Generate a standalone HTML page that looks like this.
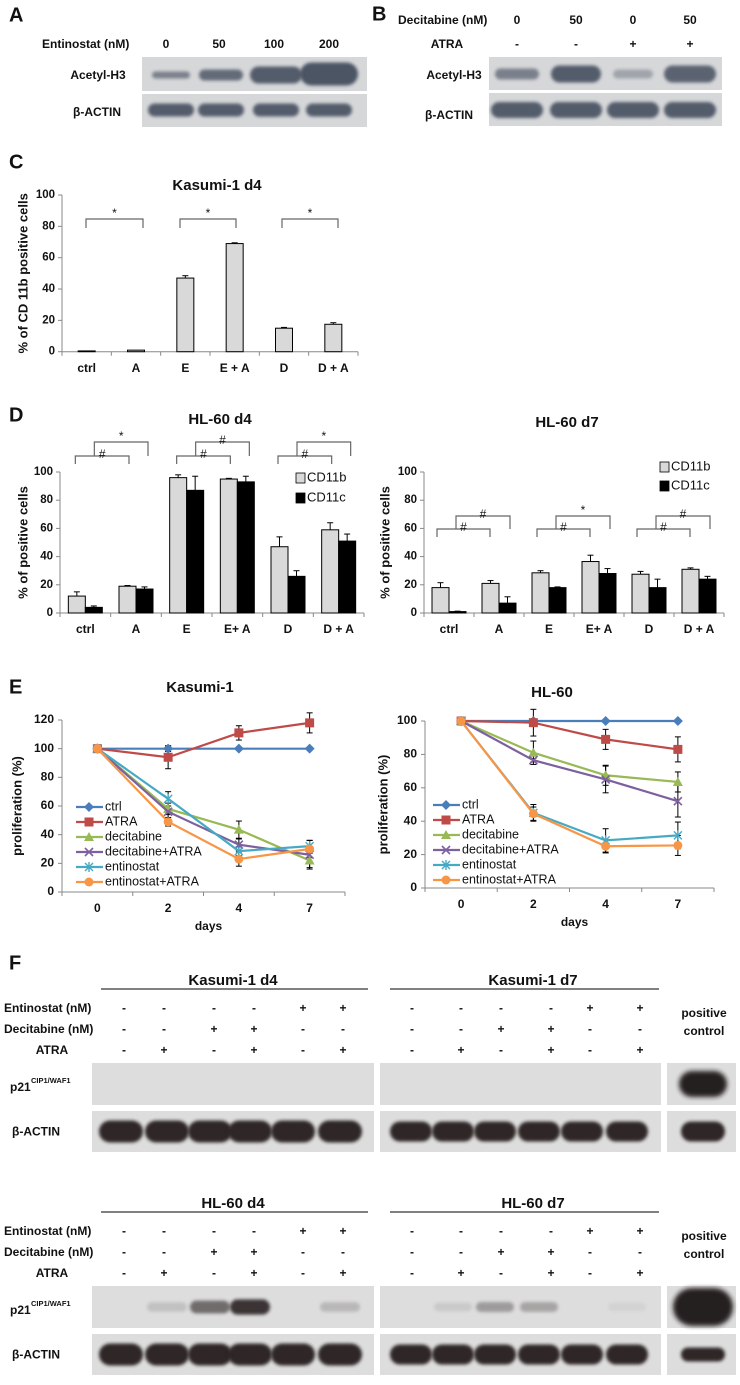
<!DOCTYPE html>
<html><head><meta charset="utf-8">
<style>
html,body{margin:0;padding:0;background:#fff;}
svg{display:block;}
text{font-family:"Liberation Sans Narrow","Liberation Sans",sans-serif;font-weight:bold;fill:#111;}
</style></head>
<body>
<svg id="fig" width="740" height="1385" viewBox="0 0 740 1385" xmlns="http://www.w3.org/2000/svg">
<defs>
<filter id="blur" x="-30%" y="-60%" width="160%" height="220%"><feGaussianBlur stdDeviation="1.6"/></filter>
<filter id="blur2" x="-30%" y="-60%" width="160%" height="220%"><feGaussianBlur stdDeviation="2.4"/></filter>
</defs>
</svg>
<script>
// ---------- Chart data ----------
const cCategories = ['ctrl','A','E','E + A','D','D + A'];
const cValues = [0.5, 1, 47, 69, 15, 17.5];
const cErrors = [0, 0, 1.5, 0.5, 0.5, 1];

const dCategoriesLeft = ['ctrl','A','E','E+ A','D','D + A'];
const d4CD11b = [12, 19, 96, 95, 47, 59];
const d4CD11bErr = [3, 0.5, 2, 0.5, 7, 5];
const d4CD11c = [4, 17, 87, 93, 26, 51];
const d4CD11cErr = [1, 1.5, 10, 4, 4, 5];
const d7CD11b = [18, 21, 28.5, 36.5, 27.5, 31];
const d7CD11bErr = [3.5, 2, 1.5, 4.5, 2, 1];
const d7CD11c = [1, 7, 18, 28, 18, 24];
const d7CD11cErr = [0.3, 4.5, 0.5, 3.5, 6, 2];
const barTicks = ['0','20','40','60','80','100'];

const eDays = ['0','2','4','7'];
const seriesNames = ['ctrl','ATRA','decitabine','decitabine+ATRA','entinostat','entinostat+ATRA'];
const kasumiCtrl = [100, 100, 100, 100];
const kasumiATRA = [100, 94, 111, 118];
const kasumiDec = [100, 58, 43.5, 22];
const kasumiDecATRA = [100, 56, 33, 26];
const kasumiEnt = [100, 65, 28.5, 32];
const kasumiEntATRA = [100, 49, 23, 30];
const kasumiErr = [[0,2,0,0],[0,8,5,7],[0,4,6,5],[0,4,4,10],[0,5,3,4],[0,3,5,6]];
const hlCtrl = [100, 100, 100, 100];
const hlATRA = [100, 99, 89, 83];
const hlDec = [100, 81, 67.5, 63.5];
const hlDecATRA = [100, 76.5, 65, 52];
const hlEnt = [100, 45, 28.5, 31.5];
const hlEntATRA = [100, 44.5, 25, 25.5];
const hlErr = [[0,0,0,0],[0,8,6,7.5],[0,7,6,6],[0,1,8,9.5],[0,5,7,8],[0,4,4,6]];
const kasumiTicks = ['0','20','40','60','80','100','120'];
const hlTicks = ['0','20','40','60','80','100'];

// ---------- helpers ----------
const NS = 'http://www.w3.org/2000/svg';
const svg = document.getElementById('fig');
function mk(tag, attrs, parent) {
  const e = document.createElementNS(NS, tag);
  for (const k in attrs) e.setAttribute(k, attrs[k]);
  (parent || svg).appendChild(e);
  return e;
}
function txt(x, y, s, size, anchor, parent) {
  const e = mk('text', {x: x, y: y, 'font-size': size || 12, 'text-anchor': anchor || 'middle', 'dominant-baseline': 'middle'}, parent);
  e.textContent = s;
  return e;
}
function line(x1, y1, x2, y2, stroke, w, parent) {
  return mk('line', {x1: x1, y1: y1, x2: x2, y2: y2, stroke: stroke || '#888', 'stroke-width': w || 1}, parent);
}

// ---------- Blots ----------
function blotBox(x, y, w, h, bg, name) {
  const g = mk('g', {});
  
  
  mk('rect', {x: x, y: y, width: w, height: h, fill: bg}, g);
  return g;
}
function band(g, cx, cy, w, h, color, op, strong) {
  const b = mk('rect', {x: cx - w / 2, y: cy - h / 2, width: w, height: h, rx: h / 2, ry: h / 2, fill: color, opacity: op, filter: strong ? 'url(#blur2)' : 'url(#blur)'}, g);
  
  
}

// Panel letters
function panelLetter(x, y, s) {
  const t = txt(x, y, s, 20, 'start');
  
  
}
panelLetter(9, 16, 'A');
panelLetter(372, 15, 'B');
panelLetter(9, 163, 'C');
panelLetter(9, 416, 'D');
panelLetter(9, 688, 'E');
panelLetter(9, 964, 'F');

// Panel A
let t = txt(42, 45, 'Entinostat (nM)', 12, 'start');


[['0',166],['50',219],['100',274],['200',329]].forEach(d => {
  const e = txt(d[1], 45, d[0], 12);
  
  
});
t = txt(98, 76, 'Acetyl-H3', 12);


t = txt(97, 113, 'β-ACTIN', 12);


let g = blotBox(142, 57, 225, 34, '#d6d7d9', 'blot-a-acetyl');
band(g, 171, 75, 38, 7, '#3c4658', 0.6);
band(g, 221, 75, 44, 11, '#3c4658', 0.75);
band(g, 276, 75, 52, 17, '#3c4658', 0.85);
band(g, 329, 74, 58, 23, '#3c4658', 0.9);
g = blotBox(142, 94, 225, 33, '#d6d7d9', 'blot-a-actin');
[171, 221, 276, 329].forEach(c => band(g, c, 110, 46, 13, '#3c4658', 0.85));

// Panel B
t = txt(398, 21, 'Decitabine (nM)', 12, 'start');


t = txt(447, 45, 'ATRA', 12);


[['0','-',517],['50','-',576],['0','+',633],['50','+',690]].forEach(d => {
  const e = txt(d[2], 21, d[0], 12);
  
  
  const f = txt(d[2], 45, d[1], 12);
  
  
});
t = txt(454, 76, 'Acetyl-H3', 12);


t = txt(449, 116, 'β-ACTIN', 12);


g = blotBox(489, 57, 233, 33, '#d6d7d9', 'blot-b-acetyl');
band(g, 517, 74, 44, 11, '#3c4658', 0.6);
band(g, 576, 74, 50, 17, '#3c4658', 0.85);
band(g, 633, 74, 40, 9, '#3c4658', 0.35);
band(g, 690, 74, 52, 17, '#3c4658', 0.8);
g = blotBox(489, 93, 233, 33, '#d6d7d9', 'blot-b-actin');
[517, 576, 633, 690].forEach(c => band(g, c, 110, 52, 16, '#3c4658', 0.85));

// ---------- Bar charts ----------
function barChart(o) {
  const cg = mk('g', {});
  
  
  const n = o.categories.length;
  const cw = (o.x1 - o.x0) / n;
  const yS = v => o.y0 - v / o.max * (o.y0 - o.yTop);
  const xC = i => o.x0 + cw * (i + 0.5);
  // y axis
  line(o.x0, o.yTop, o.x0, o.y0, '#888', 1, cg);
  o.ticks.forEach(tk => {
    const v = parseFloat(tk);
    line(o.x0 - 4, yS(v), o.x0, yS(v), '#888', 1, cg);
    const e = txt(o.x0 - 7, yS(v), tk, 11.5, 'end', cg);
    
    
  });
  line(o.x0, o.y0, o.x1, o.y0, '#888', 1, cg);
  for (let i = 0; i <= n; i++) line(o.x0 + cw * i, o.y0, o.x0 + cw * i, o.y0 + 4, '#888', 1, cg);
  o.categories.forEach((c, i) => {
    const e = txt(xC(i), o.y0 + 17, c, 12, 'middle', cg);
    
    
  });
  const ns = o.series.length;
  const bw = 17;
  o.series.forEach((s, si) => {
    s.values.forEach((v, i) => {
      const bx = ns === 1 ? xC(i) - bw / 2 : xC(i) - bw + si * bw;
      const r = mk('rect', {x: bx, y: yS(v), width: bw, height: o.y0 - yS(v), fill: s.fill, stroke: '#000', 'stroke-width': 1}, cg);
      
      
      const er = s.errors[i];
      if (er > 0) {
        const cx = bx + bw / 2;
        line(cx, yS(v), cx, yS(v + er), '#000', 1, cg);
        line(cx - 3, yS(v + er), cx + 3, yS(v + er), '#000', 1, cg);
      }
    });
  });
  const tt = txt(o.titleX, o.titleY, o.title, 15, 'middle', cg);
  
  
  const yt = txt(0, 0, o.yTitle, 13, 'middle', cg);
  yt.setAttribute('transform', 'translate(' + o.yTitleX + ',' + (o.y0 + o.yTop) / 2 + ') rotate(-90)');
  yt.setAttribute('style', 'font-family:"Liberation Sans",sans-serif');
  
  
  return {cg, xC};
}
function bracket(parent, xa, xb, y, sym, drop) {
  const p = mk('path', {d: 'M' + xa + ',' + (y + drop) + 'V' + y + 'H' + xb + 'V' + (y + drop), fill: 'none', stroke: '#666', 'stroke-width': 1.2}, parent);
  
  
  const s = txt((xa + xb) / 2, y - (sym === '*' ? 5 : 1), sym, 12, 'middle', parent);
  s.setAttribute('style', 'font-family:"Liberation Sans",sans-serif;font-weight:normal');
  
  
}
function legendBar(parent, x, y, label, fill) {
  const r = mk('rect', {x: x, y: y - 5, width: 9, height: 10, fill: fill, stroke: '#000', 'stroke-width': 0.8}, parent);
  
  
  const e = txt(x + 11, y, label, 13, 'start', parent);
  e.setAttribute('style', 'font-family:"Liberation Sans Narrow","Liberation Sans",sans-serif;font-weight:normal');
  
  
}

// Panel C
const chC = barChart({name: 'chart-kasumi-d4-cd11b', categories: cCategories, x0: 62, x1: 358, y0: 351.7, yTop: 195, max: 100,
  ticks: barTicks, series: [{key: 'cd11b', values: cValues, errors: cErrors, fill: '#d9d9d9'}],
  title: 'Kasumi-1 d4', titleX: 217, titleY: 186, yTitle: '% of CD 11b positive cells', yTitleX: 24});
bracket(chC.cg, 86, 143, 219, '*', 9);
bracket(chC.cg, 180, 236, 219, '*', 9);
bracket(chC.cg, 282, 338, 219, '*', 9);

// Panel D left
const chD4 = barChart({name: 'chart-hl60-d4', categories: dCategoriesLeft, x0: 60, x1: 364, y0: 613, yTop: 472, max: 100,
  ticks: barTicks, series: [{key: 'cd11b', values: d4CD11b, errors: d4CD11bErr, fill: '#d9d9d9'}, {key: 'cd11c', values: d4CD11c, errors: d4CD11cErr, fill: '#000'}],
  title: 'HL-60 d4', titleX: 220, titleY: 420, yTitle: '% of positive cells', yTitleX: 24});
[[0, '#', '*'], [2, '#', '#'], [4, '#', '*']].forEach(b => {
  const i = b[0];
  bracket(chD4.cg, chD4.xC(i) - 10, chD4.xC(i + 1) - 7, 456, b[1], 8);
  bracket(chD4.cg, chD4.xC(i) + 9, chD4.xC(i + 1) + 12, 442, b[2], 14);
});
legendBar(chD4.cg, 296, 478, 'CD11b', '#d9d9d9');
legendBar(chD4.cg, 296, 498, 'CD11c', '#000');

// Panel D right
const chD7 = barChart({name: 'chart-hl60-d7', categories: dCategoriesLeft, x0: 424, x1: 724, y0: 613, yTop: 472, max: 100,
  ticks: barTicks, series: [{key: 'cd11b', values: d7CD11b, errors: d7CD11bErr, fill: '#d9d9d9'}, {key: 'cd11c', values: d7CD11c, errors: d7CD11cErr, fill: '#000'}],
  title: 'HL-60 d7', titleX: 567, titleY: 423, yTitle: '% of positive cells', yTitleX: 386});
[[0, '#', '#'], [2, '#', '*'], [4, '#', '#']].forEach(b => {
  const i = b[0];
  bracket(chD7.cg, chD7.xC(i) - 12, chD7.xC(i + 1) - 9, 529, b[1], 8);
  bracket(chD7.cg, chD7.xC(i) + 7, chD7.xC(i + 1) + 11, 516, b[2], 13);
});
legendBar(chD7.cg, 660, 467, 'CD11b', '#d9d9d9');
legendBar(chD7.cg, 660, 486, 'CD11c', '#000');

// ---------- Line charts ----------
const seriesColors = ['#4a7ebb', '#be4b48', '#98b954', '#7d60a0', '#46aac5', '#f79646'];
const seriesMarkers = ['diamond', 'square', 'triangle', 'x', 'star', 'circle'];
function marker(parent, type, x, y, c) {
  let m;
  if (type === 'diamond') m = mk('path', {d: `M${x},${y - 5}L${x + 5},${y}L${x},${y + 5}L${x - 5},${y}Z`, fill: c}, parent);
  else if (type === 'square') m = mk('rect', {x: x - 4.5, y: y - 4.5, width: 9, height: 9, fill: c}, parent);
  else if (type === 'triangle') m = mk('path', {d: `M${x},${y - 5}L${x + 5},${y + 4}L${x - 5},${y + 4}Z`, fill: c}, parent);
  else if (type === 'circle') m = mk('circle', {cx: x, cy: y, r: 4.5, fill: c}, parent);
  else if (type === 'x') m = mk('path', {d: `M${x - 4},${y - 4}L${x + 4},${y + 4}M${x - 4},${y + 4}L${x + 4},${y - 4}`, stroke: c, 'stroke-width': 1.6, fill: 'none'}, parent);
  else m = mk('path', {d: `M${x - 4},${y - 4}L${x + 4},${y + 4}M${x - 4},${y + 4}L${x + 4},${y - 4}M${x},${y - 5}V${y + 5}`, stroke: c, 'stroke-width': 1.4, fill: 'none'}, parent);
  
  
}
function lineChart(o) {
  const cg = mk('g', {});
  
  
  const n = o.categories.length;
  const cw = (o.x1 - o.x0) / n;
  const yS = v => o.y0 - v / o.max * (o.y0 - o.yTop);
  const xC = i => o.x0 + cw * (i + 0.5);
  line(o.x0, o.yTop, o.x0, o.y0, '#888', 1, cg);
  o.ticks.forEach(tk => {
    const v = parseFloat(tk);
    line(o.x0 - 4, yS(v), o.x0, yS(v), '#888', 1, cg);
    const e = txt(o.x0 - 8, yS(v), tk, 12, 'end', cg);
    
    
  });
  line(o.x0, o.y0, o.x1, o.y0, '#888', 1, cg);
  for (let i = 0; i <= n; i++) line(o.x0 + cw * i, o.y0, o.x0 + cw * i, o.y0 + 4, '#888', 1, cg);
  o.categories.forEach((c, i) => {
    const e = txt(xC(i), o.y0 + 17, c, 12, 'middle', cg);
    
    
  });
  const xt = txt((o.x0 + o.x1) / 2 + 5, o.y0 + 35, 'days', 12, 'middle', cg);
  xt.setAttribute('style', 'font-family:"Liberation Sans",sans-serif');
  
  
  // error bars
  o.series.forEach((s, si) => {
    s.forEach((v, i) => {
      const er = o.errors[si][i];
      if (er > 0) {
        const x = xC(i);
        line(x, yS(v - er), x, yS(v + er), '#000', 1, cg);
        line(x - 3, yS(v + er), x + 3, yS(v + er), '#000', 1, cg);
        line(x - 3, yS(v - er), x + 3, yS(v - er), '#000', 1, cg);
      }
    });
  });
  o.series.forEach((s, si) => {
    const p = mk('polyline', {points: s.map((v, i) => xC(i) + ',' + yS(v)).join(' '), fill: 'none', stroke: seriesColors[si], 'stroke-width': 2.2}, cg);
    
    
    s.forEach((v, i) => marker(cg, seriesMarkers[si], xC(i), yS(v), seriesColors[si]));
  });
  // legend
  seriesNames.forEach((nm, si) => {
    const y = o.legY + si * 15;
    const l = line(o.legX, y, o.legX + 27, y, seriesColors[si], 2.2, cg);
    
    
    marker(cg, seriesMarkers[si], o.legX + 13, y, seriesColors[si]);
    const e = txt(o.legX + 29, y, nm, 12.5, 'start', cg);
    e.setAttribute('style', 'font-family:"Liberation Sans Narrow","Liberation Sans",sans-serif;font-weight:normal');
    
    
  });
  const tt = txt(o.titleX, o.titleY, o.title, 15, 'middle', cg);
  
  
  const yt = txt(0, 0, 'proliferation (%)', 13, 'middle', cg);
  yt.setAttribute('transform', 'translate(' + o.yTitleX + ',' + (o.y0 + o.yTop) / 2 + ') rotate(-90)');
  yt.setAttribute('style', 'font-family:"Liberation Sans",sans-serif');
  
  
}
lineChart({name: 'chart-kasumi-proliferation', categories: eDays, x0: 62, x1: 345, y0: 892, yTop: 720, max: 120, ticks: kasumiTicks,
  series: [kasumiCtrl, kasumiATRA, kasumiDec, kasumiDecATRA, kasumiEnt, kasumiEntATRA], errors: kasumiErr,
  legX: 76, legY: 807, title: 'Kasumi-1', titleX: 200, titleY: 688, yTitleX: 18});
lineChart({name: 'chart-hl60-proliferation', categories: eDays, x0: 425, x1: 714, y0: 888, yTop: 721, max: 100, ticks: hlTicks,
  series: [hlCtrl, hlATRA, hlDec, hlDecATRA, hlEnt, hlEntATRA], errors: hlErr,
  legX: 433, legY: 805, title: 'HL-60', titleX: 552, titleY: 693, yTitleX: 384});

// ---------- Panel F ----------
const colsD4 = [121, 167, 210, 250, 293, 340];
const colsD7 = [411, 453, 495, 539, 582, 627];
const signCols4 = [124, 164, 214, 254, 303, 343];
const signCols7 = [412, 461, 501, 551, 590, 640];
const signs = [['-','-','-','-','+','+'], ['-','-','+','+','-','-'], ['-','+','-','+','-','+']];
function fBlock(y0, title4, title7, p21a, p21b, posH) {
  const titleY = y0, lineY = y0 + 8;
  const rows = [y0 + 28, y0 + 49, y0 + 70];
  let e = txt(233, titleY, title4, 15);
  
  
  line(101, lineY, 368, lineY, '#000', 1);
  e = txt(533, titleY, title7, 15);
  
  
  line(390, lineY, 659, lineY, '#000', 1);
  e = txt(4, rows[0], 'Entinostat (nM)', 12, 'start');
  
  
  e = txt(4, rows[1], 'Decitabine (nM)', 12, 'start');
  
  
  e = txt(52, rows[2], 'ATRA', 12, 'middle');
  
  
  signs.forEach((row, r) => {
    row.forEach((s, c) => {
      const a = txt(signCols4[c], rows[r], s, 12);
      
      
      const b = txt(signCols7[c], rows[r], s, 12);
      
      
    });
  });
  e = txt(704, rows[0] + 5, 'positive', 12);
  
  
  e = txt(704, rows[1] + 2, 'control', 12);
  
  
  const pTop = y0 + 82, pH = 42, aTop = y0 + 130, aH = 41;
  e = txt(10, pTop + pH / 2 + 4, 'p21', 12, 'start');
  
  
  e = txt(31, pTop + pH / 2 - 3, 'CIP1/WAF1', 7.5, 'start');
  
  
  e = txt(12, aTop + aH / 2 + 1, 'β-ACTIN', 12, 'start');
  
  
  const bg = '#dddddd';
  let g1 = blotBox(92, pTop, 282, pH, bg, 'blot-p21-early');
  p21a.forEach((op, i) => { if (op > 0) band(g1, colsD4[i], pTop + pH / 2, 40, 8 + op * 8, '#2a2321', op); });
  let g2 = blotBox(380, pTop, 281, pH, bg, 'blot-p21-late');
  p21b.forEach((op, i) => { if (op > 0) band(g2, colsD7[i], pTop + pH / 2, 38, 8 + op * 6, '#2a2321', op); });
  let g3 = blotBox(667, pTop, 69, pH, bg, 'blot-p21-positive');
  band(g3, 703, pTop + pH / 2, posH[0], posH[1], '#1a1413', 0.95, true);
  let g4 = blotBox(92, aTop, 282, aH, bg, 'blot-actin-early');
  colsD4.forEach(c => band(g4, c, aTop + aH / 2, 44, 22, '#2a2321', 0.97));
  let g5 = blotBox(380, aTop, 281, aH, bg, 'blot-actin-late');
  colsD7.forEach(c => band(g5, c, aTop + aH / 2, 42, 20, '#2a2321', 0.97));
  let g6 = blotBox(667, aTop, 69, aH, bg, 'blot-actin-positive');
  band(g6, 703, aTop + aH / 2, 44, posH[2], '#2a2321', 0.97);
}
fBlock(981, 'Kasumi-1 d4', 'Kasumi-1 d7', [0,0,0,0,0,0], [0,0,0,0,0,0], [48, 26, 20]);
fBlock(1204, 'HL-60 d4', 'HL-60 d7', [0,0.15,0.6,0.9,0,0.2], [0,0.1,0.35,0.3,0,0.05], [60, 38, 14]);
</script>
</body></html>
